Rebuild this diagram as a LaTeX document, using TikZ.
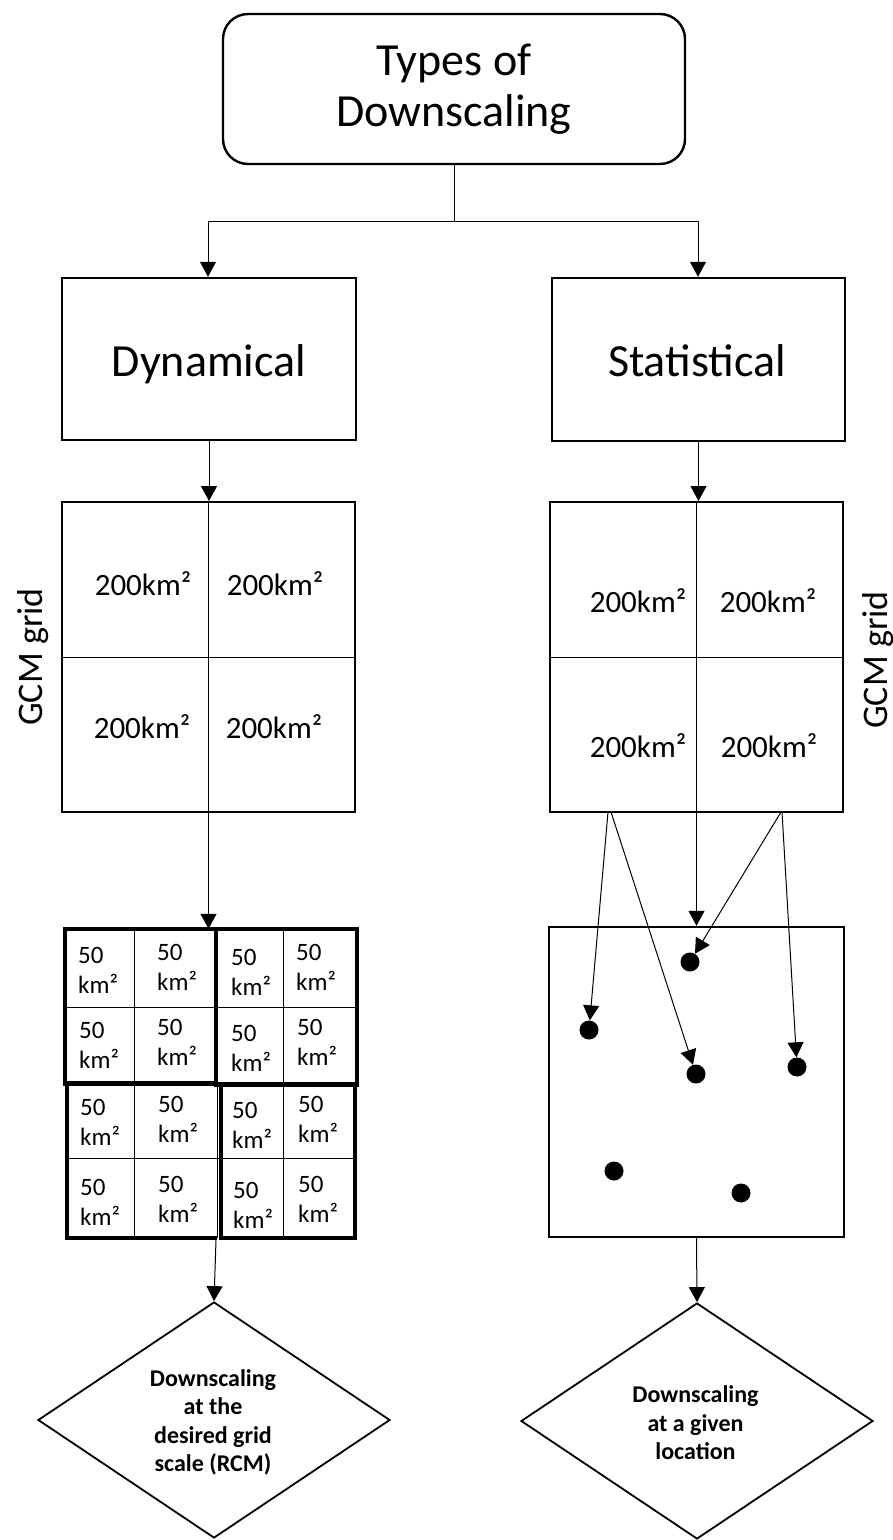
\documentclass[tikz,border=0pt]{standalone}
\usepackage{fontspec}
\setmainfont{Carlito}
\usetikzlibrary{arrows.meta,shapes.geometric}
\begin{document}
\begin{tikzpicture}[x=1pt,y=-1pt,
  box/.style={draw, line width=2.4pt, rectangle, inner sep=0pt},
  conn/.style={line width=1pt, -{Triangle[width=16pt,length=15pt]}},
  plainln/.style={line width=1pt},
  thinln/.style={line width=1pt},
  big/.style={font=\fontsize{46}{50}\selectfont, inner sep=0pt},
  midtxt/.style={font=\fontsize{31}{36}\selectfont, inner sep=0pt, anchor=base},
  gcm/.style={font=\fontsize{36}{40}\selectfont, inner sep=0pt, anchor=base, rotate=90},
  cell/.style={font=\fontsize{25}{30}\selectfont, inner sep=0pt, anchor=west, align=left},
  dtext/.style={font=\bfseries\fontsize{24}{28.5}\selectfont, inner sep=0pt, align=center},
  dec/.style={draw, diamond, line width=1.8pt, minimum width=352pt, minimum height=236pt, inner sep=0pt},
  thickq/.style={line width=4.5pt},
  dot/.style={circle, fill=black, minimum size=19pt, inner sep=0pt}]

\fill[white] (0,0) rectangle (893,1540);
\useasboundingbox (0,0) rectangle (893,1540);

% top box
\node[box, rounded corners=25pt, minimum width=462pt, minimum height=150pt, align=center, font=\fontsize{46}{51}\selectfont] (top) at (454,89) {Types of\\Downscaling};
\coordinate (jL) at (208,221);
\coordinate (jR) at (698,221);
\draw[plainln] (top.south) -- (top.south |- jL);
\draw[plainln] (jL) -- (jR);

% level 2 boxes
\node[box, minimum width=294pt, minimum height=162pt] (dyn) at (209,359) {};
\node[big, anchor=base] (dynt) at (209,376) {Dynamical};
\node[box, minimum width=293pt, minimum height=163pt] (stat) at (698.5,359.5) {};
\node[big, anchor=base] (statt) at (697,376) {Statistical};
\draw[conn] (jL) -- (jL |- dyn.north);
\draw[conn] (jR) -- (jR |- stat.north);

% left GCM grid
\node[draw, line width=2pt, minimum width=293pt, minimum height=310pt, inner sep=0pt] (gl) at (208.5,657) {};
\draw[conn] (dyn.south) -- (dyn.south |- gl.north);
\draw[thinln] (gl.north) -- (gl.south);
\draw[thinln] (gl.west) -- (gl.east);
\node[midtxt] (gl1) at (143,595) {200km²};
\node[midtxt] (gl2) at (275,595) {200km²};
\node[midtxt] (gl3) at (142,738) {200km²};
\node[midtxt] (gl4) at (274,738) {200km²};
\node[gcm] (gcml) at (42,657) {GCM grid};

% right GCM grid
\node[draw, line width=2pt, minimum width=293pt, minimum height=310pt, inner sep=0pt] (gr) at (696.5,657) {};
\draw[conn] (stat.south) -- (stat.south |- gr.north);
\draw[thinln] (gr.north) -- (gr.south);
\draw[thinln] (gr.west) -- (gr.east);
\node[midtxt] (gr1) at (638,612) {200km²};
\node[midtxt] (gr2) at (768,612) {200km²};
\node[midtxt] (gr3) at (638,757) {200km²};
\node[midtxt] (gr4) at (769,757) {200km²};
\node[gcm] (gcmr) at (887,660) {GCM grid};

% fine grid (RCM)
\node[minimum width=292pt, minimum height=309pt, inner sep=0pt] (fine) at (211,1083.5) {};
\draw[conn] (gl.south) -- (gl.south |- fine.north);
\draw[thinln] (134,929) -- (134,1083.5);
\draw[thinln] (283,929) -- (283,1084.5);
\draw[thinln] (65,1007) -- (357,1007);
\draw[thinln] (134,1083.5) -- (134,1238);
\draw[thinln] (283,1084.5) -- (283,1238);
\draw[thinln] (67,1158) -- (355,1158);
\draw[thinln] (217,1084) -- (217,1238);
\draw[thickq] (65,929) rectangle (216,1083.5);
\draw[thickq] (216,929) rectangle (357,1084.5);
\draw[thickq] (67,1083.5) -- (67,1238) -- (217,1238);
\draw[thickq] (221,1084.5) rectangle (355,1238);
\foreach \x/\y/\n in {78/970.5/c11,157/967.5/c12,231/972.5/c13,296/967.5/c14,
                      79/1045/c21,157/1042/c22,231/1048/c23,297/1042/c24,
                      80/1122/c31,158/1119/c32,232/1125/c33,298/1119/c34,
                      80/1202/c41,158/1199/c42,233/1205/c43,298/1199/c44}
  \node[cell] (\n) at (\x,\y) {50\\km²};

% left diamond
\coordinate (fs) at (216,1240);
\node[dec] (diamL) at (214,1420) {};
\draw[conn] (fs) -- (diamL.north);
\node[dtext] (diamLt) at (213,1422.5) {Downscaling\\at the\\desired grid\\scale (RCM)};

% right: points box
\node[box, minimum width=295pt, minimum height=310pt] (db) at (696.5,1082) {};
\draw[conn] (gr.south) -- (gr.south |- db.north);
\node[dot] (d1) at (690,962) {};
\node[dot] (d2) at (589,1030) {};
\node[dot] (d3) at (696,1074) {};
\node[dot] (d4) at (797,1067) {};
\node[dot] (d5) at (614,1171) {};
\node[dot] (d6) at (741,1193) {};
\coordinate (s1) at (608,812);
\coordinate (s2) at (611,812);
\coordinate (s3) at (781,812);
\coordinate (s4) at (782,812);
\draw[conn] (s1) -- (d2);
\draw[conn] (s2) -- (d3);
\draw[conn] (s3) -- (d1);
\draw[conn] (s4) -- (d4);

% right diamond
\node[dec] (diamR) at (697,1421) {};
\draw[conn] (db.south) -- (diamR.north);
\node[dtext] (diamRt) at (695.5,1423) {Downscaling\\at a given\\location};
\end{tikzpicture}
\end{document}
